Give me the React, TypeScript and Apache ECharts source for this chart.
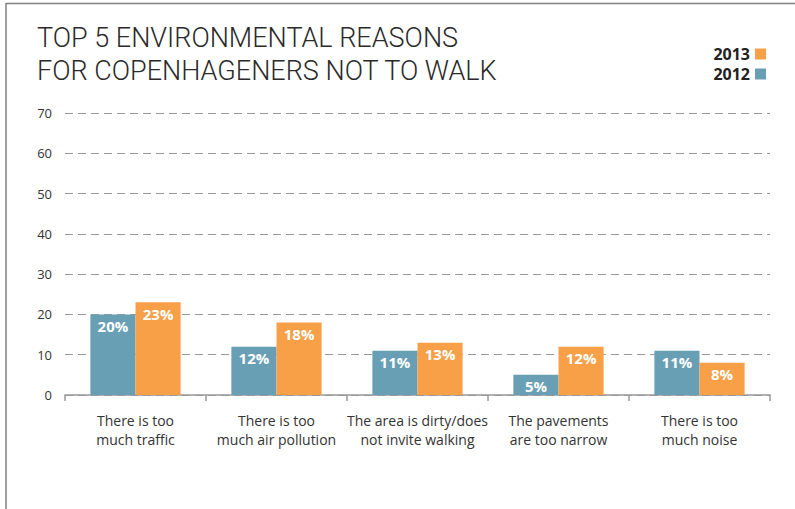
import React, { useEffect, useRef } from "react";
import * as echarts from "echarts";

const categories = [
  "There is too\nmuch traffic",
  "There is too\nmuch air pollution",
  "The area is dirty/does\nnot invite walking",
  "The pavements\nare too narrow",
  "There is too\nmuch noise",
];
const values2012 = [20, 12, 11, 5, 11];
const values2013 = [23, 18, 13, 12, 8];
const titleLines = ["TOP 5 ENVIRONMENTAL REASONS", "FOR COPENHAGENERS NOT TO WALK"];

const BLUE = "#689fb4";
const ORANGE = "#f7a048";

export default function App() {
  const ref = useRef<HTMLDivElement>(null);
  useEffect(() => {
    const chart = echarts.init(ref.current!, null, { renderer: "svg" });
    const labelStyle = {
      show: true,
      position: "insideTop" as const,
      distance: 4,
      color: "#fff",
      fontWeight: "bold" as const,
      fontSize: 15,
      fontFamily: "Open Sans",
      formatter: "{c}%",
    };
    chart.setOption({
      animation: false,
      textStyle: { fontFamily: "Open Sans" },
      graphic: [
        { type: "line", shape: { x1: 6, y1: 3.5, x2: 795, y2: 3.5 }, style: { stroke: "#808080", lineWidth: 1.5 } },
        { type: "line", shape: { x1: 6, y1: 3, x2: 6, y2: 509 }, style: { stroke: "#808080", lineWidth: 1.5 } },
        {
          type: "text",
          x: 37,
          y: 20.5,
          scaleX: 0.965,
          style: {
            text: titleLines.join("\n"),
            font: "300 28px Roboto",
            lineHeight: 33,
            fill: "#2a2a2a",
          },
        },
      ],
      legend: {
        data: ["2013", "2012"],
        orient: "vertical",
        align: "right",
        right: 24,
        top: 39,
        itemWidth: 11,
        itemHeight: 11,
        itemGap: 0,
        icon: "rect",
        textStyle: { fontSize: 16, lineHeight: 20, fontWeight: "bold", color: "#222", fontFamily: "Open Sans" },
      },
      grid: { left: 65, right: 25, top: 113, bottom: 114 },
      xAxis: {
        type: "category",
        data: categories,
        axisLine: { lineStyle: { color: "#999", width: 1.5 } },
        axisTick: { show: true, length: 6, lineStyle: { color: "#999", width: 1.5 } },
        axisLabel: { color: "#333", fontSize: 14, lineHeight: 19, margin: 16, interval: 0 },
      },
      yAxis: {
        type: "value",
        min: 0,
        max: 70,
        interval: 10,
        axisLabel: { color: "#333", fontSize: 13, margin: 13 },
        splitLine: { lineStyle: { type: [8, 5], color: "#999", width: 1 } },
      },
      series: [
        {
          name: "2012",
          type: "bar",
          data: values2012,
          itemStyle: { color: BLUE },
          barWidth: "32%",
          barGap: "0%",
          label: labelStyle,
        },
        {
          name: "2013",
          type: "bar",
          data: values2013,
          itemStyle: { color: ORANGE },
          barWidth: "32%",
          barGap: "0%",
          label: labelStyle,
        },
      ],
    });
    return () => chart.dispose();
  }, []);
  return (
    <div
      ref={ref}
      style={{ position: "fixed", left: 0, top: 0, width: 795, height: 509, background: "#fff" }}
    />
  );
}
